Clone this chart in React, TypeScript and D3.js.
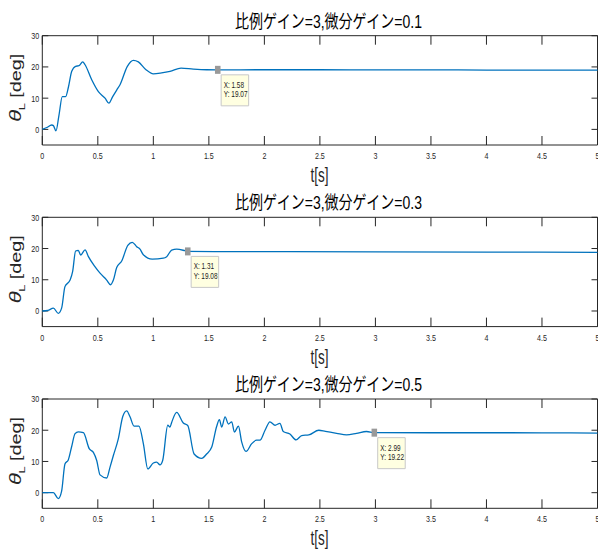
import * as d3 from 'd3'

// step response, three derivative gains (time in s, angle in deg)
const t1 = [0, 0.04, 0.085, 0.1, 0.123, 0.15, 0.18, 0.21, 0.235, 0.265, 0.3, 0.33, 0.364, 0.385, 0.445, 0.505, 0.565, 0.6, 0.634, 0.67, 0.70, 0.766, 0.82, 0.865, 0.934, 1.0, 1.075, 1.15, 1.25, 1.36, 1.48, 1.58, 2.0, 2.5, 3.0, 3.5, 4.0, 4.5, 5.0]
const v1 = [0, 0.6, 1.4, 1.2, -0.5, 4.5, 10.5, 10.5, 13.5, 18.6, 20.2, 20.4, 21.6, 20.7, 15.9, 12.1, 10.0, 8.4, 10.5, 12.6, 14.3, 20.2, 22.1, 21.6, 19.1, 17.8, 18.1, 18.6, 19.6, 19.3, 19.1, 19.07, 19.1, 19.1, 19.05, 19.05, 19.0, 19.0, 19.0]

const t2 = [0, 0.05, 0.1, 0.144, 0.174, 0.204, 0.25, 0.273, 0.30, 0.324, 0.346, 0.385, 0.414, 0.474, 0.52, 0.58, 0.615, 0.64, 0.67, 0.715, 0.77, 0.81, 0.85, 0.88, 0.91, 0.99, 1.09, 1.12, 1.165, 1.21, 1.285, 1.31, 2, 3, 4, 5]
const v2 = [0, 0.2, 0.9, -0.75, 0.9, 7.8, 9.9, 12.6, 19.2, 19.4, 17.9, 19.6, 17.5, 14.2, 12.1, 9.9, 8.4, 9.9, 13.9, 16.0, 21.0, 22.0, 20.6, 19.8, 18.0, 16.6, 16.9, 17.4, 19.5, 19.8, 19.3, 19.08, 19.0, 18.9, 18.85, 18.8]

const t3 = [0, 0.1, 0.144, 0.174, 0.204, 0.234, 0.264, 0.295, 0.324, 0.37, 0.424, 0.46, 0.49, 0.52, 0.58, 0.61, 0.64, 0.685, 0.724, 0.76, 0.79, 0.826, 0.87, 0.91, 0.95, 1.0, 1.03, 1.06, 1.084, 1.13, 1.15, 1.165, 1.21, 1.27, 1.31, 1.367, 1.436, 1.48, 1.526, 1.57, 1.595, 1.616, 1.646, 1.676, 1.706, 1.73, 1.766, 1.796, 1.835, 1.886, 1.93, 1.96, 2.006, 2.05, 2.096, 2.14, 2.17, 2.23, 2.285, 2.336, 2.4, 2.49, 2.55, 2.65, 2.74, 2.83, 2.92, 2.99, 3.5, 4, 4.5, 5]
const v3 = [0, 0, -1.9, 0.5, 9.2, 10.5, 14.7, 18.9, 19.5, 19.2, 14.0, 12.9, 10.3, 5.7, 4.7, 8.2, 11.9, 17.3, 24.3, 26.2, 24.3, 21.3, 21.3, 15.7, 7.6, 9.5, 9.8, 8.9, 10.3, 21.6, 21.0, 22.5, 25.7, 22.3, 21.5, 12.4, 11.0, 12.4, 14.6, 21.2, 23.4, 21.0, 24.3, 22.0, 22.7, 19.4, 21.3, 16.2, 13.2, 15.7, 16.8, 16.8, 20.0, 22.7, 21.6, 22.2, 19.6, 18.8, 16.9, 18.3, 18.5, 20.0, 19.6, 19.0, 18.5, 19.0, 19.6, 19.22, 19.2, 19.2, 19.15, 19.1]

const titles = ['比例ゲイン=3,微分ゲイン=0.1', '比例ゲイン=3,微分ゲイン=0.3', '比例ゲイン=3,微分ゲイン=0.5']
const tipX = [1.58, 1.31, 2.99]
const tipY = [19.07, 19.08, 19.22]
const xTicks = [0, 0.5, 1, 1.5, 2, 2.5, 3, 3.5, 4, 4.5, 5]
const yTicks = [0, 10, 20, 30]

const series = [[t1, v1], [t2, v2], [t3, v3]]

// the whole figure looks squeezed sideways, so draw wide and scale x
const SX = 0.75
const TOPS = [35.7, 217.3, 399]
const PH = 109.3
const FONT = '"Liberation Sans", Arial, "Noto Sans CJK JP", sans-serif'
const AX = '#262626'

// rough Arial advance widths (em) so squeezed labels get a fixed length
const W: any = { '.': 0.278, ':': 0.278, ' ': 0.278, 'X': 0.667, 'Y': 0.667 }
const emWidth = (s: string) => s.split('').reduce((a, c) => a + (W[c] ?? 0.556), 0)

const x = d3.scaleLinear().domain([0, 5]).range([42.3 / SX, 597.5 / SX])

function Panel({ i }: { i: number }) {
    const top = TOPS[i]
    const bottom = top + PH
    const y = d3.scaleLinear().domain([-5, 30]).range([bottom, top])
    const [ts, vs] = series[i]
    const pts: [number, number][] = ts.map((t, k) => [t, vs[k]])
    const line = d3.line<[number, number]>()
        .x(d => x(d[0]))
        .y(d => y(d[1]))
        .curve(d3.curveMonotoneX)
    const ns = { vectorEffect: 'non-scaling-stroke' } as any
    const mx = x(tipX[i])
    const my = y(tipY[i])
    const bx = mx + 3.4 / SX
    const by = my + 5
    const lx = 'X: ' + tipX[i]
    const ly = 'Y: ' + tipY[i]
    return (
        <g>
            <g transform={`scale(${SX},1)`}>
                <text x={328.5 / SX} y={top - 8} fontSize={18.5} textAnchor="middle"
                    textLength={187 / SX} lengthAdjust="spacingAndGlyphs" fill="#000">{titles[i]}</text>
                {xTicks.map(t => (
                    <g key={'x' + t}>
                        <line x1={x(t)} x2={x(t)} y1={bottom} y2={bottom - 9} stroke={AX} strokeWidth={1} style={ns} />
                        <line x1={x(t)} x2={x(t)} y1={top} y2={top + 9} stroke={AX} strokeWidth={1} style={ns} />
                        <text x={x(t)} y={bottom + 14} fontSize={9.5} textAnchor="middle" fill={AX}
                            textLength={emWidth(String(t)) * 9.5} lengthAdjust="spacingAndGlyphs">{t}</text>
                    </g>
                ))}
                {yTicks.map(v => (
                    <g key={'y' + v}>
                        <line x1={x(0)} x2={x(0) + 8} y1={y(v)} y2={y(v)} stroke={AX} strokeWidth={1} style={ns} />
                        <line x1={x(5)} x2={x(5) - 8} y1={y(v)} y2={y(v)} stroke={AX} strokeWidth={1} style={ns} />
                        <text x={x(0) - 4} y={y(v) + 3.4} fontSize={9.5} textAnchor="end" fill={AX}
                            textLength={emWidth(String(v)) * 9.5} lengthAdjust="spacingAndGlyphs">{v}</text>
                    </g>
                ))}
                <rect x={x(0)} y={top} width={x(5) - x(0)} height={PH} fill="none" stroke={AX} strokeWidth={1} style={ns} />
                <path d={line(pts) ?? ''} fill="none" stroke="#0072BD" strokeWidth={1.3} style={ns} />
                <rect x={mx - 3.7} y={my - 4} width={7.4} height={8} fill="#999" />
                <rect x={bx} y={by} width={27.5 / SX} height={31} fill="#FFFFE1" stroke="#c8c8c8" strokeWidth={1} style={ns} />
                <text x={bx + 3.5} y={by + 13} fontSize={8.5} fill="#222"
                    textLength={emWidth(lx) * 8.5} lengthAdjust="spacingAndGlyphs">{lx}</text>
                <text x={bx + 3.5} y={by + 22.5} fontSize={8.5} fill="#222"
                    textLength={emWidth(ly) * 8.5} lengthAdjust="spacingAndGlyphs">{ly}</text>
                <text x={319.5 / SX} y={bottom + 37} fontSize={21} textAnchor="middle" fill={AX}
                    textLength={24} lengthAdjust="spacingAndGlyphs">t[s]</text>
            </g>
            {/* y label: θ, subscript L, [deg] laid out bottom to top */}
            <g transform={`translate(21,${top + 52}) rotate(-90) scale(1,0.75)`} fill={AX}>
                <text x={-34} y={0} fontSize={22} fontStyle="italic">θ</text>
                <text x={-22.5} y={5} fontSize={13}>L</text>
                <text x={-10} y={0} fontSize={20}
                    textLength={44} lengthAdjust="spacingAndGlyphs">[deg]</text>
            </g>
        </g>
    )
}

export default function App() {
    return (
        <svg width={598} height={551} style={{ position: 'absolute', left: 0, top: 0, background: '#fff' }}
            fontFamily={FONT}>
            {[0, 1, 2].map(i => <Panel key={i} i={i} />)}
        </svg>
    )
}
